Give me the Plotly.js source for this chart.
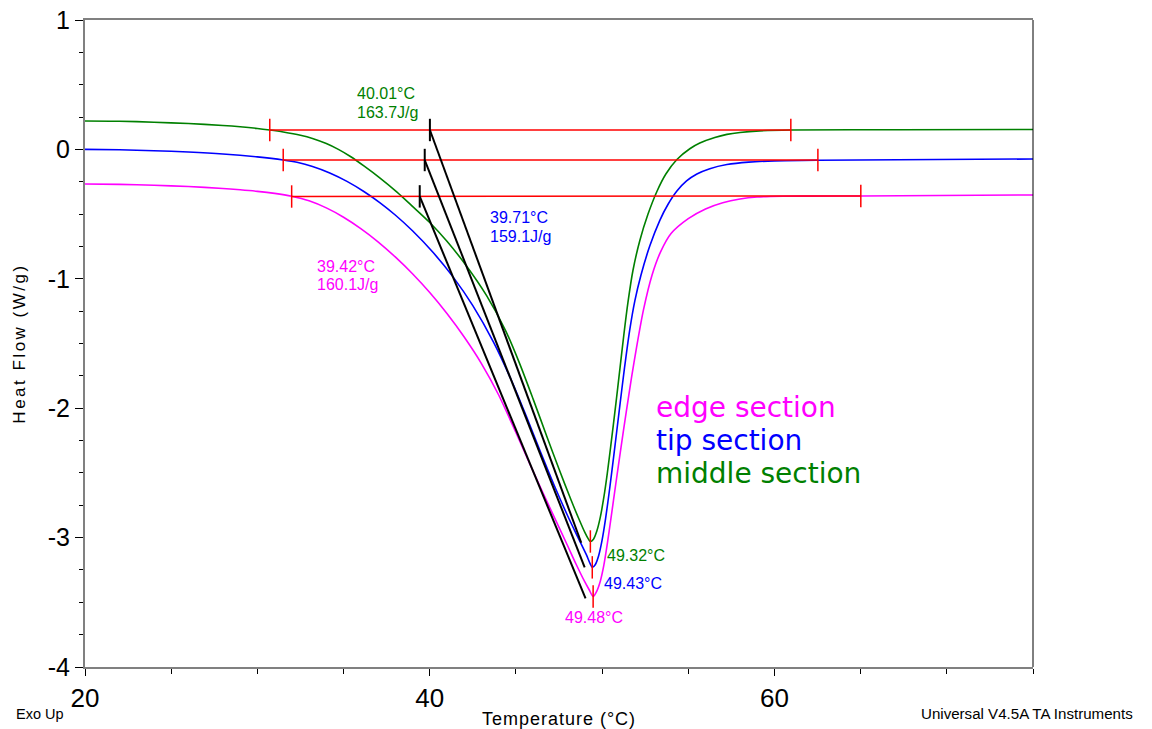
<!DOCTYPE html>
<html>
<head>
<meta charset="utf-8">
<script src="https://cdn.plot.ly/plotly-3.0.1.min.js"></script>
<style>
  html, body { margin: 0; padding: 0; background: #fff; }
  #chart { width: 1152px; height: 729px; }
  .xtitle { letter-spacing: 1px; }
  .ytitle { letter-spacing: 2.5px; }
</style>
</head>
<body>
<div id="chart"></div>
<script>
// ---- Data ----
const seriesNames = ["middle section", "tip section", "edge section"];

const middleX = [20, 22, 24, 26, 28, 29, 30, 30.72, 31.5, 32.5, 33.2, 34, 34.7, 35.4, 36.2, 37.1, 38.1, 39, 40, 41, 42.1, 43.3, 44.4, 45.2, 46, 46.8, 47.5, 48.2, 48.7, 49.0, 49.2, 49.32, 49.5, 49.7, 49.9, 50.1, 50.3, 50.5, 50.8, 51.03, 51.26, 51.5, 51.79, 52.19, 52.66, 53.18, 53.7, 54.34, 55.09, 55.67, 56.54, 57.24, 58, 59.15, 60.95, 67.27, 75];
const middleY = [0.22, 0.218, 0.21, 0.2, 0.185, 0.175, 0.162, 0.15, 0.135, 0.11, 0.085, 0.045, 0.0, -0.055, -0.13, -0.22, -0.33, -0.44, -0.565, -0.71, -0.895, -1.13, -1.40, -1.65, -1.93, -2.22, -2.47, -2.71, -2.87, -2.96, -3.01, -3.03, -3.012, -2.947, -2.84, -2.69, -2.505, -2.295, -1.965, -1.70, -1.435, -1.183, -0.936, -0.704, -0.502, -0.325, -0.19, -0.078, 0.005, 0.049, 0.092, 0.116, 0.131, 0.143, 0.15, 0.152, 0.154];

const tipX = [20, 22, 24, 26, 28, 30, 31.5, 32.3, 33.2, 34.2, 35.2, 36.2, 37.1, 38, 39, 40.2, 41.35, 42.5, 43.7, 44.8, 45.6, 46.4, 47.3, 48, 48.5, 49.08, 49.3, 49.43, 49.6, 49.8, 50.0, 50.2, 50.45, 50.7, 51.0, 51.3, 51.6, 51.9, 52.25, 52.77, 53.35, 53.82, 54.34, 54.9, 55.5, 56.25, 57.24, 58.5, 60, 62.52, 75];
const tipY = [0, -0.003, -0.01, -0.02, -0.035, -0.058, -0.082, -0.100, -0.132, -0.182, -0.247, -0.327, -0.411, -0.507, -0.629, -0.797, -0.985, -1.207, -1.489, -1.803, -2.061, -2.329, -2.621, -2.831, -2.971, -3.13, -3.20, -3.23, -3.21, -3.14, -3.02, -2.856, -2.611, -2.343, -2.013, -1.689, -1.398, -1.17, -0.974, -0.745, -0.548, -0.426, -0.322, -0.244, -0.19, -0.149, -0.117, -0.098, -0.089, -0.084, -0.074];

const edgeX = [20, 22, 24, 26, 28, 29, 30, 31, 31.99, 33, 34, 35, 36, 37, 38, 39, 40, 41, 42, 43, 44, 45, 46, 47, 48, 48.5, 49, 49.25, 49.48, 49.7, 49.9, 50.1, 50.3, 50.5, 50.8, 51.1, 51.4, 51.7, 52.0, 52.4, 52.9, 53.4, 54, 55, 56, 57, 58, 59, 60.5, 62, 65.01, 75];
const edgeY = [-0.267, -0.27, -0.277, -0.287, -0.302, -0.312, -0.324, -0.34, -0.362, -0.397, -0.452, -0.524, -0.612, -0.714, -0.831, -0.961, -1.106, -1.268, -1.45, -1.655, -1.898, -2.188, -2.488, -2.778, -3.063, -3.208, -3.343, -3.403, -3.455, -3.411, -3.335, -3.215, -3.05, -2.865, -2.58, -2.30, -2.03, -1.77, -1.53, -1.24, -0.97, -0.79, -0.65, -0.535, -0.46, -0.412, -0.383, -0.368, -0.362, -0.361, -0.36, -0.352];

// integration baselines: [middle, tip, edge]
const baseStartX = [30.72, 31.50, 31.99];
const baseStartY = [0.15, -0.082, -0.364];
const baseEndX   = [60.95, 62.52, 65.01];
const baseEndY   = [0.15, -0.082, -0.36];

// onset tangents
const onsetX = [40.01, 39.71, 39.42];
const onsetY = [0.15, -0.082, -0.363];
const tangentEndX = [48.79, 48.99, 49.04];
const tangentEndY = [-3.04, -3.23, -3.47];

// peaks
const peakX = [49.32, 49.43, 49.48];
const peakY = [-3.03, -3.23, -3.455];

// enthalpies
const enthalpy = [163.7, 159.1, 160.1];

const xTickVals = [20, 40, 60];
const yTickVals = [-4, -3, -2, -1, 0, 1];

// ---- Styling ----
const colors = ["#008000", "#0000FF", "#FF00FF"];
const FONT = "Liberation Sans, Arial, sans-serif";

const traces = [];
const curvesX = [middleX, tipX, edgeX];
const curvesY = [middleY, tipY, edgeY];
for (let i = 0; i < 3; i++) {
  traces.push({
    x: curvesX[i], y: curvesY[i], type: "scatter", mode: "lines",
    line: { color: colors[i], width: 1.6, shape: "spline", smoothing: 0.8 },
    name: seriesNames[i], hoverinfo: "skip"
  });
}
// red baselines with end ticks
for (let i = 0; i < 3; i++) {
  traces.push({
    x: [baseStartX[i], baseEndX[i]], y: [baseStartY[i], baseEndY[i]],
    type: "scatter", mode: "lines+markers",
    line: { color: "#FF0000", width: 1.5 },
    marker: { symbol: "line-ns-open", size: 16, color: "#FF0000", line: { color: "#FF0000", width: 1.5 } },
    hoverinfo: "skip"
  });
}
// black tangents
for (let i = 0; i < 3; i++) {
  traces.push({
    x: [onsetX[i], tangentEndX[i]], y: [onsetY[i], tangentEndY[i]],
    type: "scatter", mode: "lines",
    line: { color: "#000000", width: 2 }, hoverinfo: "skip"
  });
}
// onset ticks
traces.push({
  x: onsetX, y: onsetY, type: "scatter", mode: "markers",
  marker: { symbol: "line-ns-open", size: 16, color: "#000", line: { color: "#000", width: 2 } },
  hoverinfo: "skip"
});
// peak ticks
traces.push({
  x: peakX, y: peakY, type: "scatter", mode: "markers",
  marker: { symbol: "line-ns-open", size: 16, color: "#FF0000", line: { color: "#FF0000", width: 1.5 } },
  hoverinfo: "skip"
});

function ann(x, y, text, color, size, family, xanchor) {
  return { x: x, y: y, xref: "x", yref: "y", text: text, showarrow: false,
    xanchor: xanchor || "left", yanchor: "middle",
    font: { family: family || FONT, size: size || 16, color: color } };
}
const fmtT = v => v.toFixed(2) + "°C";
const fmtH = v => v.toFixed(1) + "J/g";

const annotations = [
  ann(35.67, 0.435, fmtT(onsetX[0]), colors[0]),
  ann(35.67, 0.288, fmtH(enthalpy[0]), colors[0]),
  ann(43.38, -0.526, fmtT(onsetX[1]), colors[1]),
  ann(43.38, -0.673, fmtH(enthalpy[1]), colors[1]),
  ann(33.36, -0.906, fmtT(onsetX[2]), colors[2]),
  ann(33.36, -1.045, fmtH(enthalpy[2]), colors[2]),
  ann(50.15, -3.142, fmtT(peakX[0]), colors[0]),
  ann(49.99, -3.351, fmtT(peakX[1]), colors[1]),
  ann(47.71, -3.621, fmtT(peakX[2]), colors[2]),
  ann(53.01, -1.998, seriesNames[2], colors[2], 28, "DejaVu Sans, Verdana, sans-serif"),
  ann(53.01, -2.253, seriesNames[1], colors[1], 28, "DejaVu Sans, Verdana, sans-serif"),
  ann(53.01, -2.508, seriesNames[0], colors[0], 28, "DejaVu Sans, Verdana, sans-serif"),
  { x: -0.075, y: -0.0727, xref: "paper", yref: "paper", text: "Exo Up", showarrow: false,
    xanchor: "left", yanchor: "middle", font: { family: FONT, size: 14.5, color: "#000" } },
  { x: 0.8797, y: -0.0711, xref: "paper", yref: "paper", text: "Universal V4.5A TA Instruments", showarrow: false,
    xanchor: "left", yanchor: "middle", font: { family: FONT, size: 15.1, color: "#000" } }
];

const layout = {
  width: 1152, height: 729,
  margin: { l: 85, r: 119, t: 20, b: 62 },
  paper_bgcolor: "#fff", plot_bgcolor: "#fff",
  showlegend: false,
  font: { family: FONT, color: "#000" },
  xaxis: {
    range: [20, 75], tickvals: xTickVals, ticktext: xTickVals.map(String),
    ticks: "outside", ticklen: 7, tickwidth: 1, tickcolor: "#000",
    minor: { dtick: 5, tick0: 20, ticks: "outside", ticklen: 5, tickwidth: 1, tickcolor: "#000" },
    showgrid: false, zeroline: false,
    showline: true, linecolor: "#808080", linewidth: 2, mirror: true,
    tickfont: { family: FONT, size: 26, color: "#000" },
    title: { text: "Temperature (°C)", font: { family: FONT, size: 18, color: "#000" }, standoff: 4 }
  },
  yaxis: {
    range: [-4, 1], tickvals: yTickVals, ticktext: yTickVals.map(String),
    ticks: "outside", ticklen: 8, tickwidth: 1, tickcolor: "#000",
    minor: { dtick: 0.25, tick0: 0, ticks: "outside", ticklen: 4, tickwidth: 1, tickcolor: "#000" },
    showgrid: false, zeroline: false,
    showline: true, linecolor: "#808080", linewidth: 2,
    tickfont: { family: FONT, size: 25, color: "#000" },
    title: { text: "Heat Flow (W/g)", font: { family: FONT, size: 17, color: "#000" }, standoff: 18 }
  },
  shapes: [
    { type: "line", xref: "paper", yref: "paper", x0: 1, x1: 1, y0: 0, y1: 1,
      line: { color: "#000", width: 1 } }
  ],
  annotations: annotations
};

Plotly.newPlot("chart", traces, layout, { displayModeBar: false, staticPlot: true });
</script>
</body>
</html>
